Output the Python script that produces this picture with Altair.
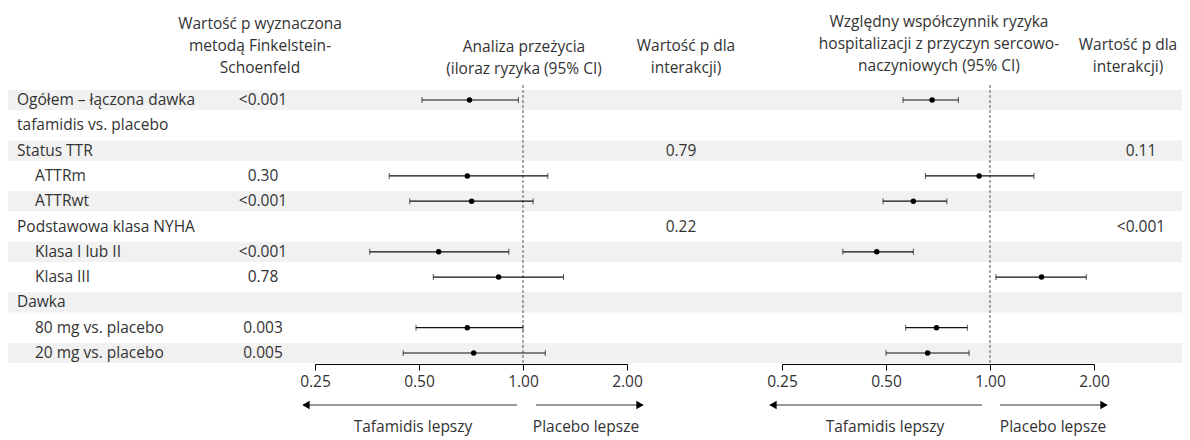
import altair as alt
import pandas as pd

# ---------------- data ----------------
row_labels = ["Ogółem – łączona dawka", "tafamidis vs. placebo", "Status TTR", "ATTRm", "ATTRwt",
              "Podstawowa klasa NYHA", "Klasa I lub II", "Klasa III", "Dawka",
              "80 mg vs. placebo", "20 mg vs. placebo"]
row_indent = [0, 0, 0, 1, 1, 0, 1, 1, 0, 1, 1]
row_shaded = [1, 0, 1, 0, 1, 0, 1, 0, 1, 0, 1]

p_fs = ["<0.001", "", "", "0.30", "<0.001", "", "<0.001", "0.78", "", "0.003", "0.005"]
p_int_surv = ["", "", "0.79", "", "", "0.22", "", "", "", "", ""]
p_int_hosp = ["", "", "0.11", "", "", "<0.001", "", "", "", "", ""]

# survival analysis hazard ratio (95% CI)
hr = [0.70, None, None, 0.69, 0.71, None, 0.57, 0.85, None, 0.69, 0.72]
hr_lo = [0.51, None, None, 0.41, 0.47, None, 0.36, 0.55, None, 0.49, 0.45]
hr_hi = [0.97, None, None, 1.18, 1.07, None, 0.91, 1.31, None, 1.00, 1.16]

# relative risk ratio of CV hospitalization (95% CI)
rr = [0.68, None, None, 0.93, 0.60, None, 0.47, 1.41, None, 0.70, 0.66]
rr_lo = [0.56, None, None, 0.65, 0.49, None, 0.375, 1.04, None, 0.57, 0.50]
rr_hi = [0.81, None, None, 1.34, 0.75, None, 0.60, 1.90, None, 0.86, 0.87]

axis_ticks = [0.25, 0.5, 1.0, 2.0]

df = pd.DataFrame({
    "row": row_labels, "indent": row_indent, "shaded": row_shaded,
    "p_fs": p_fs, "p_int_surv": p_int_surv, "p_int_hosp": p_int_hosp,
    "hr": hr, "hr_lo": hr_lo, "hr_hi": hr_hi,
    "rr": rr, "rr_lo": rr_lo, "rr_hi": rr_hi,
})

FONT = "Open Sans"
TXT = "#333333"
FS = 15.5
H = 356

Y = alt.Y("row:N", scale=alt.Scale(type="band", domain=row_labels, range=[79.35, 357.65],
                                   paddingInner=0.2, paddingOuter=0.1), axis=None)


def bands(width):
    return alt.Chart(df).transform_filter("datum.shaded == 1").mark_rect(color="#f1f1f1").encode(
        y=Y, x=alt.value(0), x2=alt.value(width))


def header(lines, x, y):
    # y is the position of the first line
    return alt.Chart(pd.DataFrame({"t": ["\n".join(lines)]})).mark_text(
        lineBreak="\n", lineHeight=22, align="center", baseline="middle", fontSize=FS, color=TXT
    ).encode(text="t:N", x=alt.value(x), y=alt.value(y))


def text_col(field, x, align="center"):
    return alt.Chart(df).transform_filter(f"datum.{field} != ''").mark_text(
        align=align, baseline="middle", fontSize=FS, color=TXT
    ).encode(y=Y, text=f"{field}:N", x=alt.value(x))


# ---------- panel 1: labels + Finkelstein-Schoenfeld p ----------
W1 = 307
lab_main = alt.Chart(df).transform_filter("datum.indent == 0").mark_text(
    align="left", baseline="middle", fontSize=FS, color=TXT).encode(y=Y, text="row:N", x=alt.value(9))
lab_sub = alt.Chart(df).transform_filter("datum.indent == 1").mark_text(
    align="left", baseline="middle", fontSize=FS, color=TXT).encode(y=Y, text="row:N", x=alt.value(27))
p1 = alt.layer(
    bands(W1), lab_main, lab_sub, text_col("p_fs", 255),
    header(["Wartość p wyznaczona", "metodą Finkelstein-", "Schoenfeld"], 252, 16),
).properties(width=W1, height=H)


def forest(est, lo, hi, width, head_lines, head_x, head_y, arrows):
    xs = alt.Scale(type="log", base=2, domain=[0.25, 2.0], nice=False)
    X = alt.X(f"{est}:Q", scale=xs, title=None,
              axis=alt.Axis(values=axis_ticks, format=".2f", grid=False, domainColor="#000",
                            tickColor="#000", tickSize=6, labelFontSize=FS, labelColor=TXT,
                            labelFont=FONT, labelPadding=4, labelFlush=False))
    base = alt.Chart(df).transform_filter(f"isValid(datum.{est})")
    ci = base.mark_rule(color="#111", strokeWidth=1.2).encode(
        y=Y, x=alt.X(f"{lo}:Q", scale=xs), x2=f"{hi}:Q")
    cap_lo = base.mark_tick(color="#111", size=6, thickness=1).encode(y=Y, x=alt.X(f"{lo}:Q", scale=xs))
    cap_hi = base.mark_tick(color="#111", size=6, thickness=1).encode(y=Y, x=alt.X(f"{hi}:Q", scale=xs))
    pts = base.mark_circle(color="#000", size=30, opacity=1).encode(y=Y, x=X)
    ref = alt.Chart(pd.DataFrame({"v": [1.0]})).mark_rule(
        color="#555", strokeDash=[3, 2], strokeWidth=1).encode(
        x=alt.X("v:Q", scale=xs), y=alt.value(77), y2=alt.value(H))
    (l0, l1, r0, r1, tl, tr) = arrows
    one = pd.DataFrame({"a": [0]})
    arr = [
        alt.Chart(one).mark_rule(color="#999999", strokeWidth=2).encode(
            x=alt.value(l0), x2=alt.value(l1), y=alt.value(397)),
        alt.Chart(one).mark_rule(color="#999999", strokeWidth=2).encode(
            x=alt.value(r0), x2=alt.value(r1), y=alt.value(397)),
        alt.Chart(one).mark_point(shape="triangle-left", filled=True, size=70, color="#000", opacity=1).encode(
            x=alt.value(l1 + 3), y=alt.value(397)),
        alt.Chart(one).mark_point(shape="triangle-right", filled=True, size=70, color="#000", opacity=1).encode(
            x=alt.value(r1 - 3), y=alt.value(397)),
        alt.Chart(pd.DataFrame({"t": ["Tafamidis lepszy"]})).mark_text(
            fontSize=FS, color=TXT, align="center", baseline="middle").encode(
            text="t:N", x=alt.value(tl), y=alt.value(419)),
        alt.Chart(pd.DataFrame({"t": ["Placebo lepsze"]})).mark_text(
            fontSize=FS, color=TXT, align="center", baseline="middle").encode(
            text="t:N", x=alt.value(tr), y=alt.value(419)),
    ]
    return alt.layer(bands(width), ref, ci, cap_lo, cap_hi, pts,
                     header(head_lines, head_x, head_y), *arr).properties(width=width, height=H)


W2 = 312
p2 = forest("hr", "hr_lo", "hr_hi", W2, ["Analiza przeżycia", "(iloraz ryzyka (95% CI)"], 209, 39,
            (202, -12, 221, 328, 98, 271))

W3 = 155
p3 = alt.layer(
    bands(W3), text_col("p_int_surv", 54),
    header(["Wartość p dla", "interakcji)"], 59, 38),
).properties(width=W3, height=H)

W4 = 312
p4 = forest("rr", "rr_lo", "rr_hi", W4,
            ["Względny współczynnik ryzyka", "hospitalizacji z przyczyn sercowo-", "naczyniowych (95% CI)"],
            157, 14, (200, -12, 218, 325, 103, 271))

W5 = 88
p5 = alt.layer(
    bands(W5), text_col("p_int_hosp", 47),
    header(["Wartość p dla", "interakcji)"], 34, 37),
).properties(width=W5, height=H)

chart = alt.hconcat(p1, p2, p3, p4, p5, spacing=0, bounds="flush").properties(
    padding=0
).configure_view(stroke=None).configure_text(font=FONT).configure_axis(labelFont=FONT)

chart.save("out.html", embed_options={"renderer": "svg", "actions": False})
